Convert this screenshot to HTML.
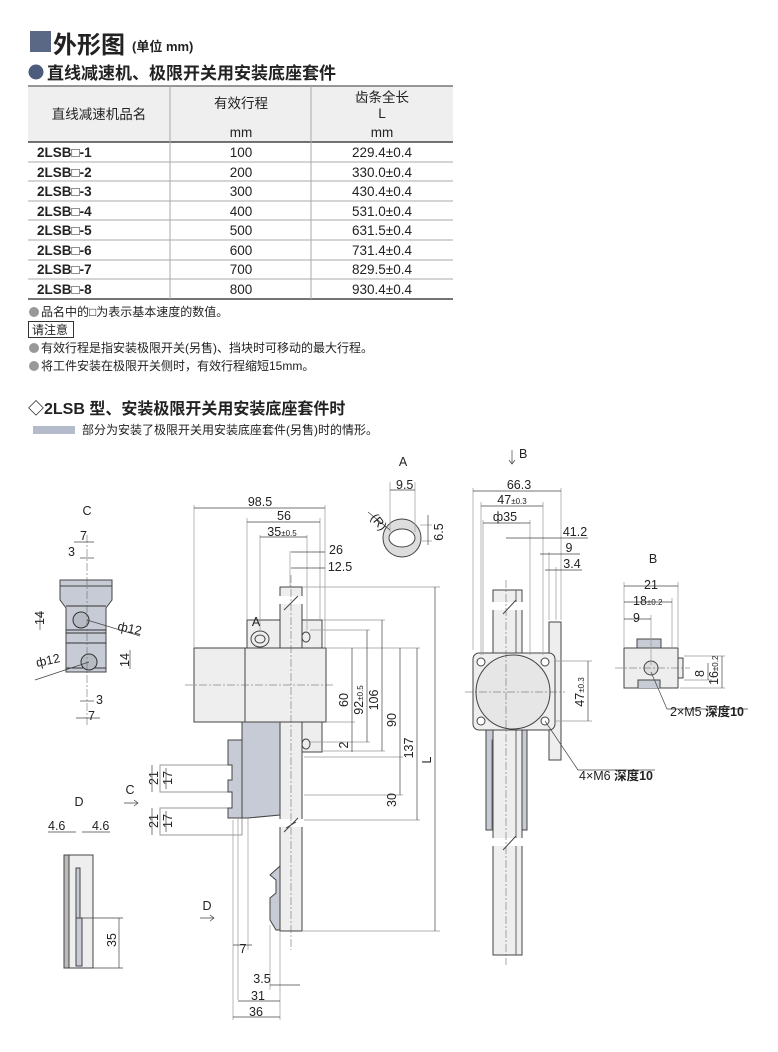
<!DOCTYPE html>
<html><head><meta charset="utf-8"><style>
body{margin:0;background:#fff}
svg{display:block}
text{font-family:"Liberation Sans","Noto Sans CJK SC",sans-serif;fill:#222}
.b{font-weight:bold}
.d{font-size:12.5px}
.dl{stroke:#444;stroke-width:.7;fill:none}
.el{stroke:#999;stroke-width:.7;fill:none}
.cl{stroke:#555;stroke-width:.5;stroke-dasharray:8 2 2 2;fill:none}
.o{stroke:#444;stroke-width:1;fill:#eee}
.g{stroke:#444;stroke-width:1;fill:#c7cbd5}
</style></head><body>
<svg width="778" height="1052" viewBox="0 0 778 1052">
<!-- titles -->
<rect x="30" y="31" width="21" height="21" fill="#5b6885"/>
<text x="53" y="53" class="b" font-size="24">外形图</text>
<text x="132" y="51" class="b" font-size="13">(单位 mm)</text>
<circle cx="36" cy="72" r="7.5" fill="#4d5b7c"/>
<text x="47" y="79" class="b" font-size="17">直线减速机、极限开关用安装底座套件</text>
<!-- table -->
<rect x="28" y="86" width="425" height="56" fill="#efefef"/>
<line x1="28" y1="86" x2="453" y2="86" stroke="#777" stroke-width="1.5"/>
<line x1="28" y1="142" x2="453" y2="142" stroke="#222" stroke-width="1.2"/>
<line x1="28" y1="299" x2="453" y2="299" stroke="#222" stroke-width="1.2"/>
<g stroke="#aaa" stroke-width="1">
<line x1="28" y1="162" x2="453" y2="162"/><line x1="28" y1="181" x2="453" y2="181"/>
<line x1="28" y1="201" x2="453" y2="201"/><line x1="28" y1="220" x2="453" y2="220"/>
<line x1="28" y1="240" x2="453" y2="240"/><line x1="28" y1="260" x2="453" y2="260"/>
<line x1="28" y1="279" x2="453" y2="279"/>
<line x1="170" y1="86" x2="170" y2="299"/><line x1="311" y1="86" x2="311" y2="299"/>
</g>
<g font-size="13.5" text-anchor="middle">
<text x="99" y="119">直线减速机品名</text>
<text x="241" y="108">有效行程</text>
<text x="241" y="137">mm</text>
<text x="382" y="102">齿条全长</text>
<text x="382" y="118">L</text>
<text x="382" y="137">mm</text>
</g>
<g font-size="13.5" class="b">
<text x="37" y="157">2LSB□-1</text><text x="37" y="177">2LSB□-2</text>
<text x="37" y="196">2LSB□-3</text><text x="37" y="216">2LSB□-4</text>
<text x="37" y="235">2LSB□-5</text><text x="37" y="255">2LSB□-6</text>
<text x="37" y="274">2LSB□-7</text><text x="37" y="294">2LSB□-8</text>
</g>
<g font-size="13.5" text-anchor="middle">
<text x="241" y="157">100</text><text x="382" y="157">229.4±0.4</text>
<text x="241" y="177">200</text><text x="382" y="177">330.0±0.4</text>
<text x="241" y="196">300</text><text x="382" y="196">430.4±0.4</text>
<text x="241" y="216">400</text><text x="382" y="216">531.0±0.4</text>
<text x="241" y="235">500</text><text x="382" y="235">631.5±0.4</text>
<text x="241" y="255">600</text><text x="382" y="255">731.4±0.4</text>
<text x="241" y="274">700</text><text x="382" y="274">829.5±0.4</text>
<text x="241" y="294">800</text><text x="382" y="294">930.4±0.4</text>
</g>
<g font-size="12">
<circle cx="34" cy="312" r="5" fill="#999"/><text x="41" y="316">品名中的□为表示基本速度的数值。</text>
<rect x="28.5" y="321.5" width="45" height="16" fill="none" stroke="#333"/><text x="32" y="334">请注意</text>
<circle cx="34" cy="348" r="5" fill="#999"/><text x="41" y="352">有效行程是指安装极限开关(另售)、挡块时可移动的最大行程。</text>
<circle cx="34" cy="366" r="5" fill="#999"/><text x="41" y="370">将工件安装在极限开关侧时，有效行程缩短15mm。</text>
</g>
<text x="28" y="414" class="b" font-size="16">◇2LSB 型、安装极限开关用安装底座套件时</text>
<rect x="33" y="426" width="42" height="8" fill="#b4bbcb"/>
<text x="82" y="434" font-size="12">部分为安装了极限开关用安装底座套件(另售)时的情形。</text>

<!-- MAIN SIDE VIEW -->
<g>
<rect class="o" x="247" y="620" width="75" height="28"/>
<rect class="o" x="302" y="722" width="20" height="30"/>
<rect class="o" x="280" y="587" width="22" height="344"/>
<rect class="o" x="194" y="648" width="132" height="74"/>
<line x1="245" y1="648" x2="245" y2="722" stroke="#444"/>
<ellipse cx="260" cy="639" rx="9" ry="8" fill="#eee" stroke="#444"/>
<ellipse cx="260" cy="639" rx="5" ry="4" fill="none" stroke="#444"/>
<ellipse cx="306" cy="637" rx="4" ry="5" fill="none" stroke="#444"/>
<ellipse cx="306" cy="744" rx="4" ry="5" fill="none" stroke="#444"/>
<rect x="160" y="765" width="82" height="27" fill="#fff" stroke="#999"/>
<rect x="160" y="808" width="82" height="27" fill="#fff" stroke="#999"/>
<path class="g" d="M242,722 H280 V815 L248,818 H242 Z"/>
<path class="g" d="M228,740 H242 V818 H228 V808 H232 V792 H228 V780 H232 V765 H228 Z"/>
<path class="g" d="M280,866 V930 H276 L270,920 V898 L276,893 V880 L270,875 Z"/>
<rect x="278" y="819" width="26" height="8" fill="#fff"/>
<path d="M284,832 L298,818 M286,828 L296,822" stroke="#444"/>
<rect x="278" y="596" width="26" height="8" fill="#fff"/>
<path d="M284,610 L298,596" stroke="#444"/>
<line class="cl" x1="185" y1="685" x2="335" y2="685"/>
<line class="cl" x1="291" y1="575" x2="291" y2="950"/>
<!-- dims -->
<g class="el">
<line x1="194" y1="505" x2="194" y2="648"/><line x1="325" y1="505" x2="325" y2="648"/>
<line x1="247" y1="518" x2="247" y2="620"/><line x1="320" y1="518" x2="320" y2="620"/>
<line x1="260" y1="535" x2="260" y2="630"/><line x1="307" y1="535" x2="307" y2="630"/>
<line x1="290" y1="551" x2="290" y2="587"/>
<line x1="302" y1="587" x2="440" y2="587"/><line x1="322" y1="620" x2="385" y2="620"/>
<line x1="310" y1="630" x2="370" y2="630"/><line x1="326" y1="648" x2="420" y2="648"/>
<line x1="326" y1="722" x2="355" y2="722"/><line x1="310" y1="742" x2="370" y2="742"/>
<line x1="322" y1="751" x2="385" y2="751"/><line x1="304" y1="757" x2="403" y2="757"/>
<line x1="304" y1="795" x2="403" y2="795"/><line x1="304" y1="820" x2="420" y2="820"/>
<line x1="302" y1="931" x2="440" y2="931"/>
<line x1="233" y1="820" x2="233" y2="1020"/><line x1="238" y1="818" x2="238" y2="1000"/>
<line x1="248" y1="818" x2="248" y2="950"/><line x1="280" y1="931" x2="280" y2="1020"/>
<line x1="270" y1="925" x2="270" y2="990"/>
</g>
<g class="dl">
<line x1="194" y1="508" x2="325" y2="508"/><line x1="247" y1="522" x2="320" y2="522"/>
<line x1="260" y1="537" x2="307" y2="537"/><line x1="291" y1="552" x2="325" y2="552"/>
<line x1="291" y1="568" x2="325" y2="568"/>
<line x1="352" y1="648" x2="352" y2="722"/><line x1="367" y1="630" x2="367" y2="742"/>
<line x1="382" y1="620" x2="382" y2="751"/><line x1="400" y1="648" x2="400" y2="757"/>
<line x1="400" y1="757" x2="400" y2="795"/><line x1="417" y1="648" x2="417" y2="820"/>
<line x1="435" y1="587" x2="435" y2="931"/><line x1="352" y1="722" x2="352" y2="752"/>
<line x1="233" y1="945" x2="252" y2="945"/><line x1="270" y1="985" x2="300" y2="985"/>
<line x1="238" y1="1001" x2="280" y2="1001"/><line x1="233" y1="1017" x2="280" y2="1017"/>
</g>
<g class="d" text-anchor="middle">
<text x="260" y="506">98.5</text><text x="284" y="520">56</text>
<text x="282" y="536">35<tspan font-size="8">±0.5</tspan></text>
<text x="336" y="554">26</text><text x="340" y="571">12.5</text>
<text x="243" y="953">7</text><text x="262" y="983">3.5</text>
<text x="258" y="1000">31</text><text x="256" y="1016">36</text>
<text x="256" y="626">A</text>
<text x="207" y="910">D</text>
<text x="130" y="794">C</text>
</g>
<path d="M200,918 H214 M210,915 L214,918 L210,921" class="dl"/>
<path d="M124,803 H138 M134,800 L138,803 L134,806" class="dl"/>
<g class="d" text-anchor="middle">
<text transform="translate(348,700) rotate(-90)">60</text>
<text transform="translate(363,700) rotate(-90)">92<tspan font-size="8">±0.5</tspan></text>
<text transform="translate(378,700) rotate(-90)">106</text>
<text transform="translate(396,720) rotate(-90)">90</text>
<text transform="translate(348,745) rotate(-90)">2</text>
<text transform="translate(396,800) rotate(-90)">30</text>
<text transform="translate(413,748) rotate(-90)">137</text>
<text transform="translate(431,760) rotate(-90)">L</text>
<text transform="translate(158,778) rotate(-90)">21</text>
<text transform="translate(172,778) rotate(-90)">17</text>
<text transform="translate(158,821) rotate(-90)">21</text>
<text transform="translate(172,821) rotate(-90)">17</text>
</g>
<g class="dl"><line x1="152" y1="765" x2="152" y2="792"/><line x1="166" y1="768" x2="166" y2="789"/>
<line x1="152" y1="808" x2="152" y2="835"/><line x1="166" y1="811" x2="166" y2="832"/></g>
</g>

<!-- VIEW A -->
<text x="403" y="466" class="d" text-anchor="middle">A</text>
<circle cx="402" cy="538" r="19" fill="#ddd" stroke="#444"/>
<ellipse cx="402" cy="538" rx="13" ry="9" fill="#fff" stroke="#444"/>
<g class="el"><line x1="390" y1="482" x2="390" y2="532"/><line x1="415" y1="482" x2="415" y2="532"/>
<line x1="420" y1="525" x2="432" y2="525"/><line x1="420" y1="541" x2="432" y2="541"/></g>
<line class="dl" x1="390" y1="490" x2="415" y2="490"/><line class="dl" x1="428" y1="515" x2="428" y2="545"/>
<line class="dl" x1="368" y1="512" x2="390" y2="530"/>
<text x="396" y="489" class="d">9.5</text>
<text transform="translate(443,532) rotate(-90)" class="d" text-anchor="middle">6.5</text>
<text transform="translate(370,518) rotate(50)" class="d">(R)</text>

<!-- FRONT VIEW -->
<text x="519" y="458" class="d">B</text>
<path d="M512,450 V464 M509,460 L512,464 L515,460" class="dl"/>
<rect class="o" x="549" y="622" width="12" height="138"/>
<rect class="g" x="486" y="730" width="41" height="100"/>
<rect x="492" y="740" width="30" height="90" fill="#e2e4ea" stroke="#666"/>
<rect class="o" x="493" y="590" width="29" height="365"/>
<line x1="516" y1="590" x2="516" y2="955" stroke="#666"/>
<rect x="490" y="602" width="36" height="8" fill="#fff"/>
<rect x="490" y="838" width="36" height="8" fill="#fff"/>
<path d="M503,614 L516,600 M503,850 L516,836" stroke="#444"/>
<rect class="o" x="473" y="653" width="82" height="77" rx="6"/>
<circle cx="513" cy="692" r="37" fill="#e6e6e6" stroke="#444"/>
<g fill="#fff" stroke="#444"><circle cx="481" cy="662" r="4"/><circle cx="545" cy="662" r="4"/><circle cx="481" cy="721" r="4"/><circle cx="545" cy="721" r="4"/></g>
<line class="cl" x1="465" y1="692" x2="565" y2="692"/>
<line class="cl" x1="506" y1="580" x2="506" y2="965"/>
<g class="el"><line x1="473" y1="488" x2="473" y2="650"/><line x1="561" y1="488" x2="561" y2="620"/>
<line x1="481" y1="502" x2="481" y2="655"/><line x1="543" y1="502" x2="543" y2="655"/>
<line x1="483" y1="520" x2="483" y2="655"/><line x1="530" y1="520" x2="530" y2="655"/>
<line x1="549" y1="552" x2="549" y2="620"/><line x1="556" y1="567" x2="556" y2="620"/>
<line x1="556" y1="661" x2="592" y2="661"/><line x1="556" y1="721" x2="592" y2="721"/></g>
<g class="dl"><line x1="473" y1="491" x2="561" y2="491"/><line x1="481" y1="506" x2="543" y2="506"/>
<line x1="483" y1="523" x2="530" y2="523"/><line x1="506" y1="538" x2="588" y2="538"/>
<line x1="540" y1="554" x2="580" y2="554"/><line x1="545" y1="570" x2="582" y2="570"/>
<line x1="588" y1="661" x2="588" y2="721"/>
<polyline points="545,721 578,770 655,770"/></g>
<g class="d" text-anchor="middle"><text x="519" y="489">66.3</text><text x="512" y="504">47<tspan font-size="8">±0.3</tspan></text>
<text x="505" y="521">ф35</text><text x="575" y="536">41.2</text><text x="569" y="552">9</text><text x="572" y="568">3.4</text>
<text transform="translate(584,692) rotate(-90)">47<tspan font-size="8">±0.3</tspan></text></g>
<text x="579" y="780" class="d">4×M6 <tspan class="b">深度10</tspan></text>

<!-- VIEW B -->
<text x="653" y="563" class="d" text-anchor="middle">B</text>
<rect class="o" x="624" y="648" width="54" height="40"/>
<rect class="g" x="637" y="639" width="24" height="9"/>
<path class="g" d="M638,688 V680 H660 V688"/>
<rect class="o" x="678" y="658" width="5" height="20"/>
<circle cx="651" cy="668" r="7" fill="#ddd" stroke="#444"/>
<line class="cl" x1="615" y1="668" x2="690" y2="668"/>
<g class="el"><line x1="624" y1="582" x2="624" y2="648"/><line x1="678" y1="582" x2="678" y2="648"/>
<line x1="672" y1="598" x2="672" y2="648"/><line x1="651" y1="615" x2="651" y2="665"/>
<line x1="684" y1="656" x2="725" y2="656"/><line x1="684" y1="680" x2="712" y2="680"/><line x1="680" y1="688" x2="725" y2="688"/></g>
<g class="dl"><line x1="624" y1="586" x2="678" y2="586"/><line x1="624" y1="602" x2="672" y2="602"/>
<line x1="624" y1="619" x2="651" y2="619"/><line x1="708" y1="663" x2="708" y2="680"/><line x1="722" y1="656" x2="722" y2="688"/>
<polyline points="651,672 667,709 748,709"/></g>
<g class="d"><text x="644" y="589">21</text><text x="633" y="605">18<tspan font-size="8">±0.2</tspan></text>
<text x="633" y="622">9</text>
<text transform="translate(704,677) rotate(-90)">8</text>
<text transform="translate(718,685) rotate(-90)">16<tspan font-size="8">±0.2</tspan></text>
<text x="670" y="716">2×M5 <tspan class="b">深度10</tspan></text></g>

<!-- VIEW C -->
<text x="87" y="515" class="d" text-anchor="middle">C</text>
<path class="g" d="M60,580 H112 V600 L106,608 V672 H66 V608 L60,600 Z" fill="#9a9ea6"/>
<line x1="60" y1="586" x2="112" y2="586" stroke="#444"/>
<line x1="66" y1="606" x2="106" y2="606" stroke="#333"/>
<line x1="66" y1="630" x2="106" y2="630" stroke="#333"/><line x1="66" y1="633" x2="106" y2="633" stroke="#333"/>
<line x1="66" y1="643" x2="106" y2="643" stroke="#333"/><line x1="66" y1="668" x2="106" y2="668" stroke="#333"/>
<circle cx="81" cy="620" r="8" fill="#b7bbc3" stroke="#333"/>
<circle cx="89" cy="662" r="8" fill="#b7bbc3" stroke="#333"/>
<line class="cl" x1="87" y1="535" x2="87" y2="725"/>
<g class="dl"><line x1="74" y1="542" x2="94" y2="542"/><line x1="80" y1="558" x2="94" y2="558"/>
<line x1="40" y1="611" x2="40" y2="630"/><line x1="130" y1="650" x2="130" y2="669"/>
<line x1="87" y1="620" x2="140" y2="636"/><line x1="89" y1="662" x2="35" y2="680"/>
<line x1="80" y1="701" x2="94" y2="701"/><line x1="76" y1="718" x2="100" y2="718"/></g>
<g class="d"><text x="80" y="540">7</text><text x="68" y="556">3</text>
<text transform="translate(44,625) rotate(-90)">14</text>
<text transform="translate(129,667) rotate(-90)">14</text>
<text x="117" y="630" transform="rotate(12 117 630)">ф12</text>
<text x="37" y="667" transform="rotate(-12 37 667)">ф12</text>
<text x="96" y="704">3</text><text x="88" y="720">7</text></g>

<!-- VIEW D -->
<text x="79" y="806" class="d" text-anchor="middle">D</text>
<rect class="o" x="64" y="855" width="29" height="113"/>
<rect x="64" y="855" width="5" height="113" fill="#bbb" stroke="#444"/>
<path class="g" d="M76,868 H80 V918 H76 Z M76,918 H82 V966 H76 Z"/>
<g class="dl"><line x1="48" y1="832" x2="76" y2="832"/><line x1="82" y1="832" x2="110" y2="832"/>
<line x1="119" y1="918" x2="119" y2="968"/><line x1="82" y1="918" x2="123" y2="918"/><line x1="93" y1="968" x2="123" y2="968"/></g>
<g class="d"><text x="48" y="830">4.6</text><text x="92" y="830">4.6</text>
<text transform="translate(116,947) rotate(-90)">35</text></g>
</svg>
</body></html>
